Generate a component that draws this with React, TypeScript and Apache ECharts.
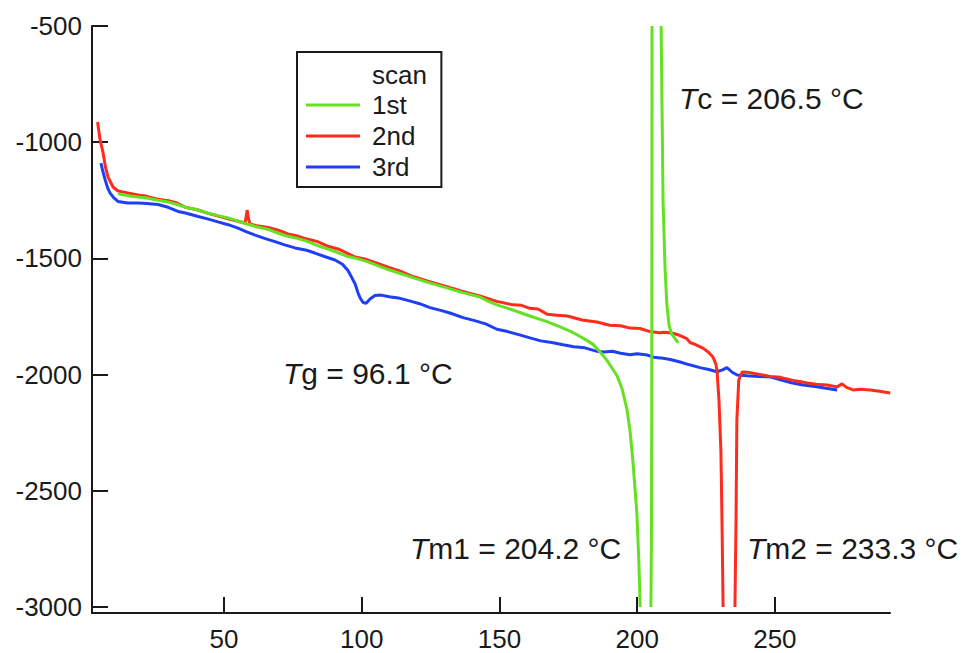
import React, { useEffect, useRef } from "react";
import * as echarts from "echarts";

// ---------- data (temperature °C, heat flow) ; null = break in the trace ----------
const scan1Temp = [
  11.5, 15, 18.8, 22, 26, 29.7, 33, 36, 40.6, 44, 47.8, 51.5, 55, 58.4, 62, 66, 70, 73.2, 77, 80.5,
  84, 87.8, 92, 95, 98, 102.3, 106, 109.6, 114, 118.6, 124, 130.9, 136, 142.9, 146, 149.1, 154.9, 161,
  167.3, 173.1, 176, 179.3, 182, 184, 186.5, 189.1, 192.7, 194.5, 196.3, 197.4, 198.5, 199.9, 200.6, 201.1,
  203, 205.0, 205.2, 205.3, 205.35, 205.4, 207, 208.7, 209.0, 209.4, 210.1, 210.8, 211.6, 212.5, 214.9,
];
const scan1Flow = [
  -1222, -1230, -1236, -1240, -1250, -1257, -1268, -1280, -1292, -1305, -1316, -1326, -1340, -1352, -1365, -1375, -1393, -1405, -1415, -1428,
  -1445, -1460, -1478, -1492, -1500, -1515, -1532, -1548, -1565, -1583, -1603, -1627, -1645, -1666, -1685, -1700, -1722, -1748,
  -1772, -1800, -1815, -1836, -1855, -1870, -1902, -1940, -2005, -2060, -2150, -2240, -2380, -2596, -2800, -3000,
  null, -3000, -2669, -2200, -1500, -500, null, -500, -818, -1249, -1537, -1700, -1790, -1825, -1864,
];

const scan2Temp = [
  4.1, 5.0, 6.1, 7.0, 7.9, 9.7, 11.5, 15, 18.8, 22, 26, 29.7, 33, 36, 40.6, 44, 47.8, 51.5, 55, 57.6,
  58.1, 58.4, 58.8, 59.4, 62, 66, 70, 73.2, 77, 80.5, 84, 87.8, 92, 97.6, 101.9, 105, 109.6, 114, 118.6,
  124, 130.9, 136, 142.9, 149, 154.9, 158, 161, 164, 167.3, 171, 174.6, 180, 185.4, 190, 194, 197.4, 201,
  204.7, 208, 210, 213, 215.6, 218, 219.2, 221, 223.9, 226, 227.5, 228.6, 229.0, 229.7, 230.4, 230.8, 231.2,
  233, 235.5, 235.9, 236.2, 236.9, 238.1, 240, 244, 248.2, 252, 256.6, 259, 261.7, 265, 269, 272.6, 274.4,
  276, 278.4, 281, 284.6, 288, 291.9,
];
const scan2Flow = [
  -913, -990, -1046, -1110, -1150, -1193, -1210, -1218, -1227, -1233, -1245, -1252, -1262, -1280, -1292, -1305, -1318, -1330, -1340, -1348,
  -1318, -1292, -1325, -1352, -1360, -1367, -1380, -1395, -1405, -1418, -1428, -1448, -1462, -1494, -1505, -1518, -1538, -1555, -1578,
  -1598, -1622, -1640, -1662, -1685, -1700, -1702, -1715, -1718, -1740, -1745, -1748, -1765, -1774, -1788, -1790, -1800, -1802,
  -1815, -1820, -1818, -1822, -1832, -1845, -1862, -1870, -1886, -1905, -1924, -1955, -1985, -2109, -2325, -2626, -3000,
  null, -3000, -2626, -2195, -2023, -1989, -1990, -1998, -2008, -2012, -2025, -2030, -2036, -2042, -2045, -2053, -2040,
  -2055, -2066, -2063, -2066, -2072, -2079,
];

const scan3Temp = [
  5.3, 6.0, 6.8, 7.7, 8.6, 10, 11.5, 15, 18.8, 22, 26, 29.7, 33.3, 36, 40.6, 44, 47.8, 51.5, 55.1, 58,
  61.3, 65, 68.5, 72, 75.8, 80, 83, 87, 90.3, 93, 95, 96.5, 97.6, 98.7, 99.5, 100.5, 101.6, 103, 104.8,
  107, 110, 113.9, 118, 121, 124.8, 129, 132, 136.8, 141, 145, 149.1, 153, 157, 161.1, 165, 169, 173.1,
  177, 181, 185.4, 188, 191, 194, 197.4, 200, 203.6, 206, 209.4, 212, 215.6, 219, 222.8, 226, 229, 231,
  232.6, 234.5, 236.3, 240, 244, 248.2, 252, 256, 260.2, 264, 268, 272.6,
];
const scan3Flow = [
  -1090, -1125, -1160, -1195, -1218, -1240, -1255, -1262, -1262, -1264, -1268, -1280, -1298, -1305, -1320, -1330, -1343, -1355, -1370, -1385,
  -1400, -1415, -1428, -1442, -1455, -1465, -1477, -1494, -1507, -1525, -1552, -1585, -1610, -1650, -1672, -1690, -1693, -1675, -1660,
  -1658, -1665, -1672, -1685, -1695, -1712, -1725, -1735, -1755, -1768, -1782, -1805, -1815, -1828, -1842, -1855, -1862, -1872,
  -1880, -1885, -1900, -1903, -1900, -1908, -1915, -1910, -1916, -1925, -1930, -1935, -1946, -1958, -1970, -1978, -1988, -1980,
  -1970, -1990, -2002, -2005, -2008, -2010, -2022, -2035, -2045, -2050, -2058, -2066,
];

const scanNames = ["1st", "2nd", "3rd"];
const scanColors = ["#66e022", "#ff2b1c", "#1f3ff5"];
const legendTitle = "scan";
const xTickValues = [50, 100, 150, 200, 250];
const yTickValues = [-3000, -2500, -2000, -1500, -1000, -500];
const xRange = [2.07, 291.8];
const yRange = [-3026, -500];
const annotationSubs = ["c = 206.5 °C", "g = 96.1 °C", "m1 = 204.2 °C", "m2 = 233.3 °C"];

const FONT = "'Liberation Sans', Arial, Helvetica, sans-serif";
const INK = "#1a1a1a";

function pairs(t: number[], f: (number | null)[]) {
  return t.map((x, i) => [x, f[i] === null ? "-" : f[i]]);
}

function annotation(sub: string, x: number, y: number) {
  return {
    type: "text",
    x,
    y,
    style: {
      text: `{i|T}{n|${sub}}`,
      verticalAlign: "middle",
      fill: INK,
      rich: {
        i: { fontStyle: "italic", fontSize: 30, fontFamily: FONT, fill: INK },
        n: { fontSize: 30, fontFamily: FONT, fill: INK },
      },
    },
  };
}

export default function App() {
  const ref = useRef<HTMLDivElement>(null);
  useEffect(() => {
    const chart = echarts.init(ref.current as HTMLDivElement, null, { renderer: "svg" });
    const datasets = [pairs(scan1Temp, scan1Flow), pairs(scan2Temp, scan2Flow), pairs(scan3Temp, scan3Flow)];
    const option: any = {
      animation: false,
      backgroundColor: "#ffffff",
      textStyle: { fontFamily: FONT },
      grid: { left: 92, right: 74, top: 26, bottom: 40, containLabel: false },
      xAxis: {
        type: "value",
        min: xRange[0],
        max: xRange[1],
        axisLine: { lineStyle: { color: INK, width: 2 } },
        axisTick: { inside: true, length: 16, lineStyle: { color: INK, width: 2 }, customValues: xTickValues },
        axisLabel: {
          customValues: xTickValues,
          fontSize: 26,
          color: INK,
          margin: 13,
          fontFamily: FONT,
          formatter: (v: number) => String(v),
        },
        splitLine: { show: false },
      },
      yAxis: {
        type: "value",
        min: yRange[0],
        max: yRange[1],
        axisLine: { show: true, lineStyle: { color: INK, width: 2 } },
        axisTick: { show: true, inside: true, length: 16, lineStyle: { color: INK, width: 2 }, customValues: yTickValues },
        axisLabel: {
          customValues: yTickValues,
          fontSize: 26,
          color: INK,
          margin: 10,
          fontFamily: FONT,
          formatter: (v: number) => String(v),
        },
        splitLine: { show: false },
      },
      legend: {
        data: scanNames,
        orient: "vertical",
        left: 297,
        top: 52,
        padding: [40, 26, 7, 9],
        icon: "rect",
        itemWidth: 54,
        itemHeight: 3,
        itemGap: 5,
        borderColor: INK,
        borderWidth: 2,
        selectedMode: false,
        textStyle: { fontSize: 26, lineHeight: 26, color: INK, fontFamily: FONT, padding: [0, 0, 0, 7] },
      },
      graphic: [
        {
          type: "text",
          x: 372,
          y: 75,
          style: { text: legendTitle, fontSize: 26, fontFamily: FONT, fill: INK, verticalAlign: "middle" },
        },
        annotation(annotationSubs[0], 679, 98),
        annotation(annotationSubs[1], 283, 373),
        annotation(annotationSubs[2], 410, 548),
        annotation(annotationSubs[3], 747, 548),
      ],
      series: scanNames.map((name, i) => ({
        name,
        type: "line",
        data: datasets[i],
        symbol: "none",
        showSymbol: false,
        connectNulls: false,
        clip: true,
        z: 4 - i,
        color: scanColors[i],
        lineStyle: { color: scanColors[i], width: 3 },
        itemStyle: { color: scanColors[i] },
      })),
    };
    chart.setOption(option);
    return () => chart.dispose();
  }, []);
  return <div ref={ref} style={{ position: "fixed", left: 0, top: 0, width: 964, height: 653 }} />;
}
